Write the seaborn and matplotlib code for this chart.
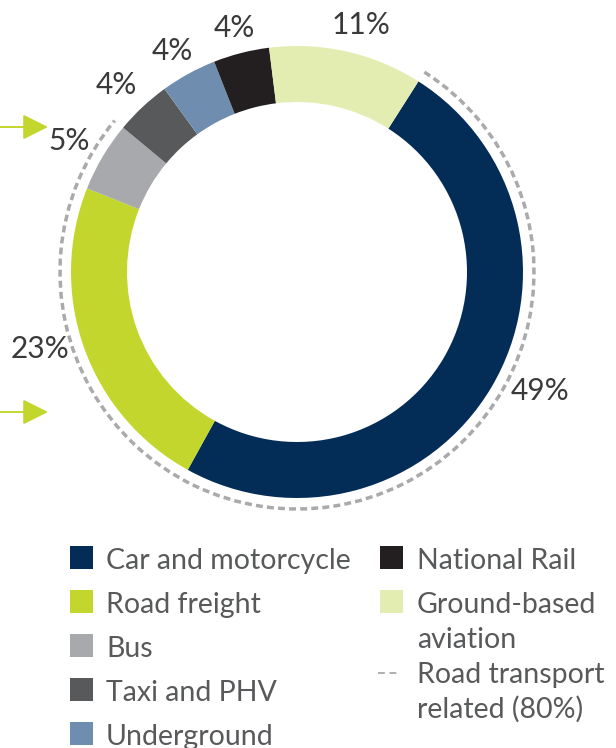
import matplotlib
matplotlib.use("Agg")
import matplotlib.pyplot as plt
from matplotlib.patches import Arc, Rectangle
import seaborn as sns

# ---------------- data ----------------
categories = ["Car and motorcycle", "Road freight", "Bus", "Taxi and PHV",
              "Underground", "National Rail", "Ground-based aviation"]
shares = [49, 23, 5, 4, 4, 4, 11]
value_labels = ["49%", "23%", "5%", "4%", "4%", "4%", "11%"]
legend_labels = ["Car and motorcycle", "Road freight", "Bus", "Taxi and PHV",
                 "Underground", "National Rail", "Ground-based\naviation"]
road_related = ["Car and motorcycle", "Road freight", "Bus"]
road_label = "Road transport\nrelated (80%)"

# ---------------- style ----------------
colors = ["#032D57", "#C3D62E", "#A7A9AC", "#58595B",
          "#6F8DAE", "#231F20", "#E3EDB1"]
sns.set_theme(style="white")
plt.rcParams["font.family"] = ["Lato", "DejaVu Sans"]
FW = "normal"

W, H = 616, 748
fig = plt.figure(figsize=(W / 100, H / 100), dpi=100)
ax = fig.add_axes([0, 0, 1, 1])

cx, cy = 297, 272          # pixel centre of the donut
R, ring = 226, 56
start = 57.5               # screen angle where "Car" begins (clockwise order)

# y axis inverted so data coords == pixel coords -> draw counterclockwise in data
ax.pie(shares, colors=colors, startangle=-start, counterclock=True,
       radius=R, center=(cx, cy),
       wedgeprops=dict(width=ring, linewidth=0))
ax.set_xlim(0, W)
ax.set_ylim(H, 0)
ax.set_aspect("equal")
ax.axis("off")

# dashed arc for road transport related categories
frac = sum(s for c, s in zip(categories, shares) if c in road_related) / sum(shares)
arc = Arc((cx, cy), 2 * 237, 2 * 237, theta1=-start, theta2=-start + 360 * frac,
          color="#AAAAAD", lw=2.5, ls=(0, (2.0, 1.2)))
ax.add_patch(arc)

# percentage labels (centre x, baseline y)
label_pos = [(540, 400), (40, 358), (69, 150), (116, 94), (172, 60), (234, 37), (361, 34)]
for txt, (x, y) in zip(value_labels, label_pos):
    ax.text(x, y, txt, ha="center", va="baseline", fontsize=21.5,
            color="#3A3A3A", fontweight=FW)

# green arrows on the left
for y in (127, 412):
    ax.annotate("", xy=(48, y), xytext=(0, y),
                arrowprops=dict(arrowstyle="-|>,head_length=1.3,head_width=0.65",
                                color="#C3D62E", lw=1.4, shrinkA=0, shrinkB=0))

# legend
txt_color = "#58595B"
fs = 20.5
for row, i in enumerate(range(0, 5)):
    top = 546 + 44 * row
    ax.add_patch(Rectangle((70, top), 23, 23, color=colors[i], lw=0))
    ax.text(106, top + 23, legend_labels[i], fontsize=fs, color=txt_color,
            va="baseline", ha="left", fontweight=FW)
for row, i in enumerate([5, 6]):
    top = 546 + 44 * row
    ax.add_patch(Rectangle((380, top), 23, 23, color=colors[i], lw=0))
    for k, ln in enumerate(legend_labels[i].split("\n")):
        ax.text(417, top + 23 + 35 * k, ln, fontsize=fs, color=txt_color,
                va="baseline", ha="left", fontweight=FW)
ax.plot([378, 400], [673, 673], color="#9A9A9A", lw=1.1, ls=(0, (4.5, 3)))
for k, ln in enumerate(road_label.split("\n")):
    ax.text(417, 683 + 35 * k, ln, fontsize=fs, color=txt_color,
            va="baseline", ha="left", fontweight=FW)

fig.savefig("out.png", dpi=100)
